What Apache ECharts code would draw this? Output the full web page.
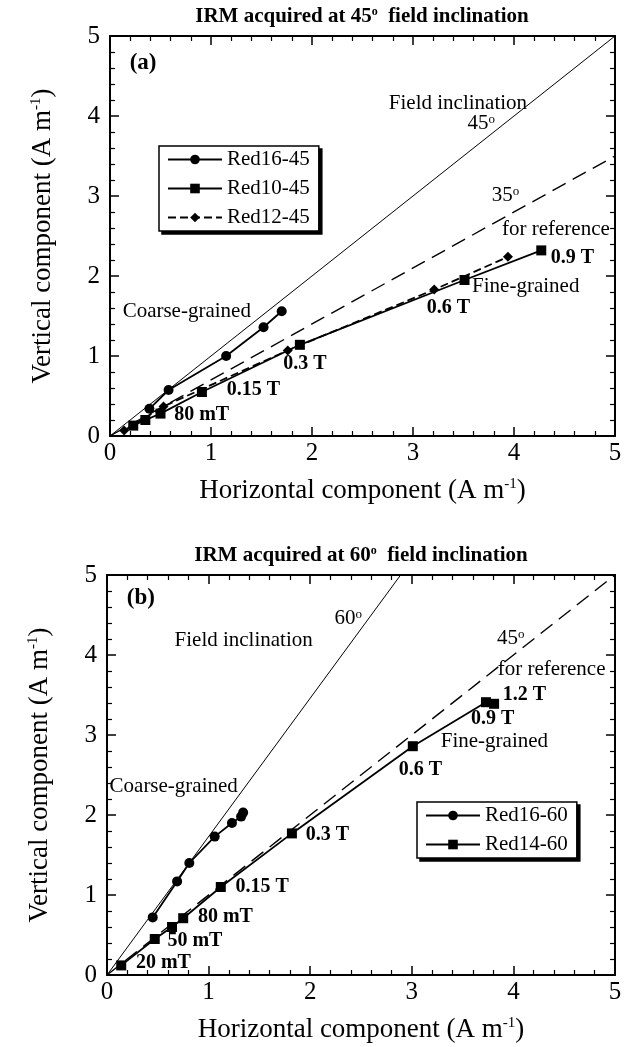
<!DOCTYPE html>
<html><head><meta charset="utf-8">
<script src="https://cdn.jsdelivr.net/npm/echarts@6/dist/echarts.min.js"></script>
<style>html,body{margin:0;padding:0;background:#fff}#c{width:633px;height:1047px}</style>
</head><body><div id="c"></div>
<script>
// ---------- data ----------
const axisTicks = [0, 1, 2, 3, 4, 5];
// Panel (a): IRM acquired at 45° field inclination
const red16_45 = [[0.39,0.34],[0.58,0.575],[1.15,1.0],[1.52,1.36],[1.7,1.56]];
const red10_45 = [[0.23,0.13],[0.35,0.2],[0.5,0.28],[0.91,0.55],[1.88,1.14],[3.51,1.95],[4.27,2.32]];
const red12_45 = [[0.14,0.07],[0.53,0.37],[1.76,1.07],[3.21,1.83],[3.94,2.24]];
const field45 = [[0,0],[5,5]];
const ref35 = [[0,0],[5,3.5]];
// Panel (b): IRM acquired at 60° field inclination
const red16_60 = [[0.45,0.72],[0.69,1.17],[0.81,1.4],[1.06,1.73],[1.23,1.9],[1.32,1.98],[1.34,2.03]];
const red14_60 = [[0.14,0.12],[0.47,0.45],[0.64,0.6],[0.75,0.71],[1.12,1.1],[1.82,1.77],[3.01,2.86],[3.73,3.41],[3.81,3.39]];
const field60 = [[0,0],[2.89,5]];
const ref45 = [[0,0],[5,5]];
// Texts
const titleA = '{t|IRM acquired at 45}{s|o}{t|  field inclination}';
const titleB = '{t|IRM acquired at 60}{s|o}{t|  field inclination}';
const xName = '{t|Horizontal component (A m}{s|-1}{t|)}';
const yName = '{t|Vertical component (A m}{s|-1}{t|)}';
const legendA = ['Red16-45','Red10-45','Red12-45'];
const legendB = ['Red16-60','Red14-60'];
// annotations: [text, x, y, align]
const notesA = [
  ['{big|(a)}', 0.2, 4.65, 'left'],
  ['{n|Field inclination}', 3.45, 4.15, 'center'],
  ['{n|45}{s|o}', 3.68, 3.9, 'center'],
  ['{n|35}{s|o}', 3.92, 3.0, 'center'],
  ['{n|for reference}', 4.42, 2.58, 'center'],
  ['{n|Coarse-grained}', 0.13, 1.55, 'left'],
  ['{n|Fine-grained}', 3.59, 1.86, 'left'],
  ['{b|80 mT}', 0.64, 0.26, 'left'],
  ['{b|0.15 T}', 1.16, 0.575, 'left'],
  ['{b|0.3 T}', 1.72, 0.9, 'left'],
  ['{b|0.6 T}', 3.14, 1.6, 'left'],
  ['{b|0.9 T}', 4.37, 2.22, 'left']
];
const notesB = [
  ['{big|(b)}', 0.2, 4.7, 'left'],
  ['{n|60}{s|o}', 2.38, 4.45, 'center'],
  ['{n|Field inclination}', 1.35, 4.17, 'center'],
  ['{n|45}{s|o}', 3.98, 4.2, 'center'],
  ['{n|for reference}', 3.85, 3.81, 'left'],
  ['{b|1.2 T}', 3.9, 3.5, 'left'],
  ['{b|0.9 T}', 3.8, 3.19, 'center'],
  ['{n|Fine-grained}', 3.29, 2.91, 'left'],
  ['{b|0.6 T}', 3.09, 2.56, 'center'],
  ['{b|0.3 T}', 1.96, 1.75, 'left'],
  ['{b|0.15 T}', 1.27, 1.1, 'left'],
  ['{b|80 mT}', 0.9, 0.72, 'left'],
  ['{b|50 mT}', 0.6, 0.42, 'left'],
  ['{b|20 mT}', 0.29, 0.14, 'left'],
  ['{n|Coarse-grained}', 0.03, 2.35, 'left']
];

// ---------- chart ----------
const FONT = '"Liberation Serif","Times New Roman",serif';
const richText = {
  t: {fontFamily: FONT, fontSize: 27, color: '#000'},
  s: {fontFamily: FONT, fontSize: 15, color: '#000', verticalAlign: 'top'}
};
const richNotes = {
  n: {fontFamily: FONT, fontSize: 21, color: '#000'},
  s: {fontFamily: FONT, fontSize: 13, color: '#000', verticalAlign: 'top'},
  b: {fontFamily: FONT, fontSize: 20, fontWeight: 'bold', color: '#000'},
  big: {fontFamily: FONT, fontSize: 23, fontWeight: 'bold', color: '#000'}
};
const grids = [
  {left: 110, right: 18, top: 36, height: 400},
  {left: 107, right: 18, top: 575, height: 400}
];
function mkAxis(g, pos, isLabel, name, gap, margin) {
  return {
    type: 'value', gridIndex: g, position: pos,
    min: axisTicks[0], max: axisTicks[axisTicks.length-1], interval: 1,
    axisLine: {show: true, onZero: false, lineStyle: {color: '#000', width: 2}},
    axisTick: {show: true, inside: true, length: 9, lineStyle: {color: '#000', width: 1.5}},
    minorTick: {show: true, splitNumber: 5, length: 5, lineStyle: {color: '#000', width: 1.2}},
    splitLine: {show: false}, minorSplitLine: {show: false},
    axisLabel: {show: isLabel, color: '#000', fontFamily: FONT, fontSize: 25, margin: margin},
    name: isLabel ? name : '', nameLocation: 'middle', nameGap: gap,
    nameTextStyle: {rich: richText}
  };
}
const xAxis = [], yAxis = [];
for (let g = 0; g < 2; g++) {
  xAxis.push(mkAxis(g, 'bottom', true, xName, 41, 5));
  xAxis.push(mkAxis(g, 'top', false, '', 0, 0));
  yAxis.push(mkAxis(g, 'left', true, yName, 54, 10));
  yAxis.push(mkAxis(g, 'right', false, '', 0, 0));
}
function dataSeries(name, data, g, symbol, size, dash) {
  return {type: 'line', name: name, data: data, xAxisIndex: 2*g, yAxisIndex: 2*g,
    symbol: symbol, symbolSize: size, showSymbol: true, z: 5,
    itemStyle: {color: '#000'},
    lineStyle: {color: '#000', width: 1.8, type: dash || 'solid'}};
}
function refLine(name, data, g, width, dash) {
  return {type: 'line', name: name, data: data, xAxisIndex: 2*g, yAxisIndex: 2*g,
    symbol: 'none', z: 3, lineStyle: {color: '#000', width: width, type: dash}};
}
function noteSeries(notes, g) {
  return {type: 'scatter', name: 'notes' + g, xAxisIndex: 2*g, yAxisIndex: 2*g, z: 10,
    symbol: 'circle', symbolSize: 1, itemStyle: {color: 'rgba(0,0,0,0)', opacity: 1},
    emphasis: {disabled: true},
    data: notes.map(n => ({name: n[0], value: [n[1], n[2]],
      label: {show: true, position: [0, 0], align: n[3], verticalAlign: 'middle',
        color: '#000', opacity: 1, formatter: p => p.name, rich: richNotes}}))
  };
}
function mkLegend(data, left, top, isShadow) {
  return {
    data: data, left: left + (isShadow ? 3 : 0), top: top + (isShadow ? 3 : 0),
    z: isShadow ? 3 : 6,
    orient: 'vertical', itemWidth: 54, itemHeight: 12, itemGap: 8,
    textStyle: {fontFamily: FONT, fontSize: 21, color: '#000'},
    backgroundColor: isShadow ? '#000' : '#fff', borderColor: '#000', borderWidth: 1.5, borderRadius: 0,
    padding: [3, 9, 3, 8]
  };
}
const titleRich = {
  t: {fontFamily: FONT, fontSize: 21, fontWeight: 'bold', color: '#000'},
  s: {fontFamily: FONT, fontSize: 12, fontWeight: 'bold', color: '#000', verticalAlign: 'top'}
};
const option = {
  animation: false,
  backgroundColor: '#fff',
  title: [
    {text: titleA, left: 362, top: 6, textAlign: 'center', padding: 0, textStyle: {rich: titleRich}},
    {text: titleB, left: 361, top: 545, textAlign: 'center', padding: 0, textStyle: {rich: titleRich}}
  ],
  grid: grids,
  xAxis: xAxis,
  yAxis: yAxis,
  legend: [
    mkLegend(legendA, 159, 146, true),
    mkLegend(legendA, 159, 146, false),
    mkLegend(legendB, 417, 802, true),
    mkLegend(legendB, 417, 802, false)
  ],
  series: [
    refLine('field45', field45, 0, 1, 'solid'),
    refLine('ref35', ref35, 0, 1.4, [15, 8]),
    dataSeries('Red16-45', red16_45, 0, 'circle', 10),
    dataSeries('Red10-45', red10_45, 0, 'rect', 10),
    dataSeries('Red12-45', red12_45, 0, 'diamond', 10, [8, 4]),
    noteSeries(notesA, 0),
    refLine('field60', field60, 1, 1, 'solid'),
    refLine('ref45', ref45, 1, 1.4, [15, 8]),
    dataSeries('Red16-60', red16_60, 1, 'circle', 10),
    dataSeries('Red14-60', red14_60, 1, 'rect', 10),
    noteSeries(notesB, 1)
  ]
};
const chart = echarts.init(document.getElementById('c'), null, {renderer: 'canvas'});
chart.setOption(option);
</script></body></html>
